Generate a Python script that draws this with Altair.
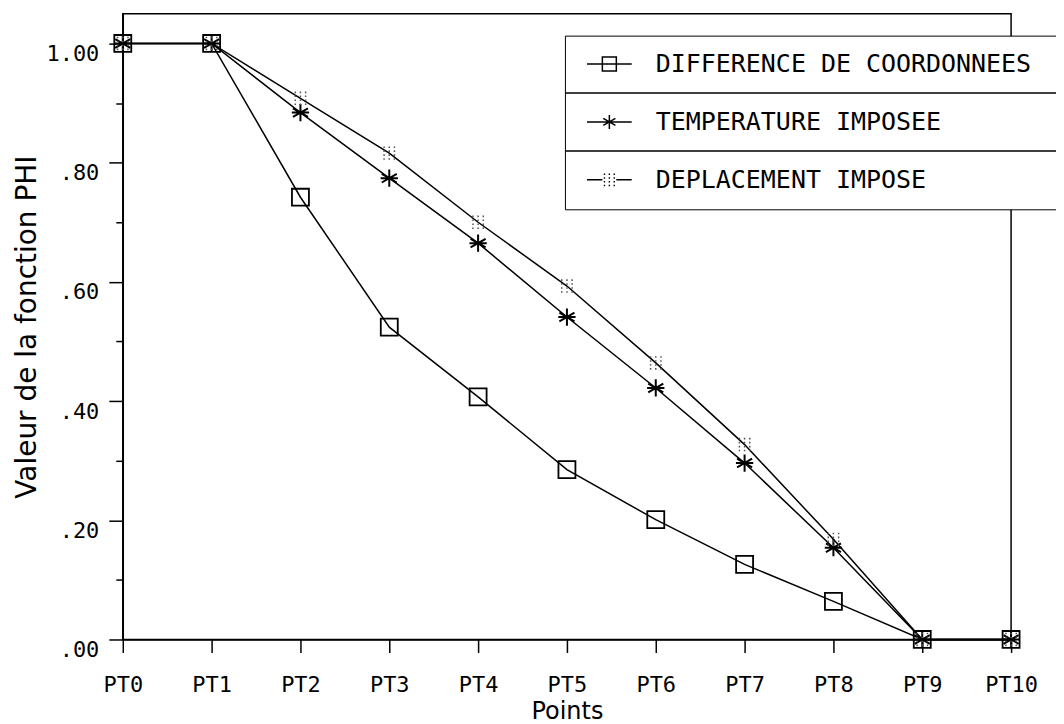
import altair as alt
import pandas as pd

# ---- data ----
points = ["PT0", "PT1", "PT2", "PT3", "PT4", "PT5", "PT6", "PT7", "PT8", "PT9", "PT10"]
series = ["DIFFERENCE DE COORDONNEES", "TEMPERATURE IMPOSEE", "DEPLACEMENT IMPOSE"]
diff_vals = [1.0, 1.0, 0.742, 0.524, 0.407, 0.285, 0.201, 0.126, 0.064, 0.0, 0.0]
temp_vals = [1.0, 1.0, 0.884, 0.774, 0.665, 0.541, 0.422, 0.296, 0.154, 0.0, 0.0]
depl_vals = [1.0, 1.0, 0.908, 0.816, 0.700, 0.593, 0.464, 0.327, 0.168, 0.0, 0.0]
y_ticks = [0.0, 0.1, 0.2, 0.3, 0.4, 0.5, 0.6, 0.7, 0.8, 0.9, 1.0]

rows = []
for name, vals in zip(series, [diff_vals, temp_vals, depl_vals]):
    for p, v in zip(points, vals):
        rows.append({"point": p, "serie": name, "value": v})
df = pd.DataFrame(rows)

# ---- marker shapes (unit square paths) ----
SQ = "M-1,-1H1V1H-1Z"
STAR = "M0,-1V1M-0.87,-0.5L0.87,0.5M-0.87,0.5L0.87,-0.5M-1,0H1"
dots = ""
for yy in (-0.8, -0.27, 0.27, 0.8):
    for xx in (-0.7, 0.0, 0.7):
        dots += f"M{xx-0.1:.2f},{yy:.2f}H{xx+0.1:.2f}"
DOTS = dots
SEP = "M-6.3,4.14H66.4"   # row separator drawn with the legend symbol
SQ_LEG = "M-3.2,0H3.2" + SQ + SEP
STAR_LEG = "M-3.2,0H3.2" + STAR + SEP
DOTS_LEG = "M-3.2,0H-1M1,0H3.2" + DOTS

MONO = "DejaVu Sans Mono"
SANS = "DejaVu Sans"

x_enc = alt.X(
    "point:N", sort=points,
    scale=alt.Scale(type="point", padding=0),
    axis=alt.Axis(
        title="Points", labelAngle=0, labelFont=MONO, labelFontSize=22,
        tickSize=13, labelPadding=22, titleFont=SANS, titleFontSize=24,
        titleFontWeight="normal", titleY=60, titleBaseline="top",
    ),
)
y_enc = alt.Y(
    "value:Q",
    scale=alt.Scale(domain=[0, 1.05], nice=False, zero=True),
    axis=alt.Axis(
        values=y_ticks,
        labelExpr="round(datum.value*10) % 2 == 0 ? replace(format(datum.value, '.2f'), '0.', '.') : ''",
        tickSize={"condition": {"test": "round(datum.value*10) % 2 == 0", "value": 14}, "value": 7},
        labelPadding=10, labelFont=MONO, labelFontSize=22, labelBaseline="top",
        title="Valeur de la fonction PHI", titleFont=SANS, titleFontSize=28,
        titleFontWeight="normal", titleX=-95, titleBaseline="middle",
    ),
)

base = alt.Chart(df).encode(x=x_enc, y=y_enc)

lines = base.mark_line(color="black", strokeWidth=1.5).encode(detail="serie:N")

pts_diff = base.transform_filter(alt.datum.serie == series[0]).mark_point(
    shape=SQ, size=289, filled=False, color="black", strokeWidth=1.8, opacity=1)
pts_temp = base.transform_filter(alt.datum.serie == series[1]).mark_point(
    shape=STAR, size=300, filled=False, color="black", strokeWidth=2, opacity=1)
pts_depl = base.transform_filter(alt.datum.serie == series[2]).mark_point(
    shape=DOTS, size=220, filled=False, color="#555555", strokeWidth=1.6, opacity=1)

legend_layer = base.mark_point(opacity=0, filled=False, size=196, color="black", strokeWidth=1.5).encode(
    shape=alt.Shape(
        "serie:N",
        scale=alt.Scale(domain=series, range=[SQ_LEG, STAR_LEG, DOTS_LEG]),
        legend=alt.Legend(
            title=None, orient="none", legendX=443, legendY=22,
            strokeColor="black", fillColor="white", padding=16, rowPadding=13,
            symbolOffset=16, labelOffset=34, labelFont=MONO, labelFontSize=25,
            labelColor="black", labelLimit=0, symbolStrokeWidth=1.5,
            symbolStrokeColor="black", symbolOpacity=1, symbolSize=196,
        ),
    )
)

chart = alt.layer(lines, pts_diff, pts_temp, pts_depl, legend_layer).properties(
    width=890, height=627,
    autosize=alt.AutoSizeParams(type="none"),
    padding={"left": 115, "top": 5, "right": 45, "bottom": 84},
).configure_view(
    stroke="black", strokeWidth=1.5
).configure_axis(
    domainColor="black", domainWidth=1.5, tickColor="black", tickWidth=1.5,
    grid=False, labelColor="black", titleColor="black",
)

chart.save("out.html", embed_options={"renderer": "svg", "actions": False})
